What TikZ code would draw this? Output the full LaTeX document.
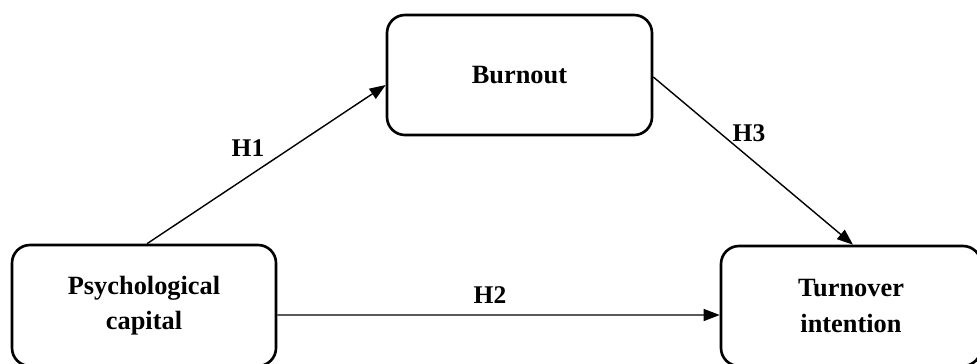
\documentclass[tikz,border=0pt]{standalone}
\usepackage{fontspec}
\setmainfont{Liberation Serif}
\usetikzlibrary{arrows.meta}
\tikzset{
  factor/.style={draw=black,line width=1.5pt,rounded corners=0.36cm,fill=white,
    align=center,font=\fontsize{15}{20}\selectfont\bfseries},
  hyplabel/.style={font=\fontsize{14.5}{18}\selectfont\bfseries},
  arrow/.style={-{Triangle[length=0.32cm,width=0.24cm]},line width=0.8pt,black}
}

\begin{document}
\begin{tikzpicture}
  \useasboundingbox (0,0) rectangle (19.54,7.26);
  \node[factor,minimum width=5.28cm,minimum height=2.42cm] (psycap) at (2.88,1.15) {Psychological\\capital};
  \node[factor,minimum width=5.30cm,minimum height=2.40cm] (burnout) at (10.39,5.76) {Burnout};
  \node[factor,minimum width=5.20cm,minimum height=2.40cm] (turnover) at (17.02,1.14) {Turnover\\intention};
  \draw[arrow] ([xshift=0.06cm]psycap.north) -- ([yshift=-0.2cm]burnout.west);
  \draw[arrow] ([yshift=-0.19cm]psycap.east) -- ([yshift=-0.18cm]turnover.west);
  \draw[arrow] ([yshift=-0.04cm]burnout.east) -- ([xshift=0.04cm]turnover.north);
  \node[hyplabel] (h1) at (4.96,4.30) {H1};
  \node[hyplabel] (h2) at (9.80,1.36) {H2};
  \node[hyplabel] (h3) at (14.98,4.60) {H3};
\end{tikzpicture}
\end{document}
